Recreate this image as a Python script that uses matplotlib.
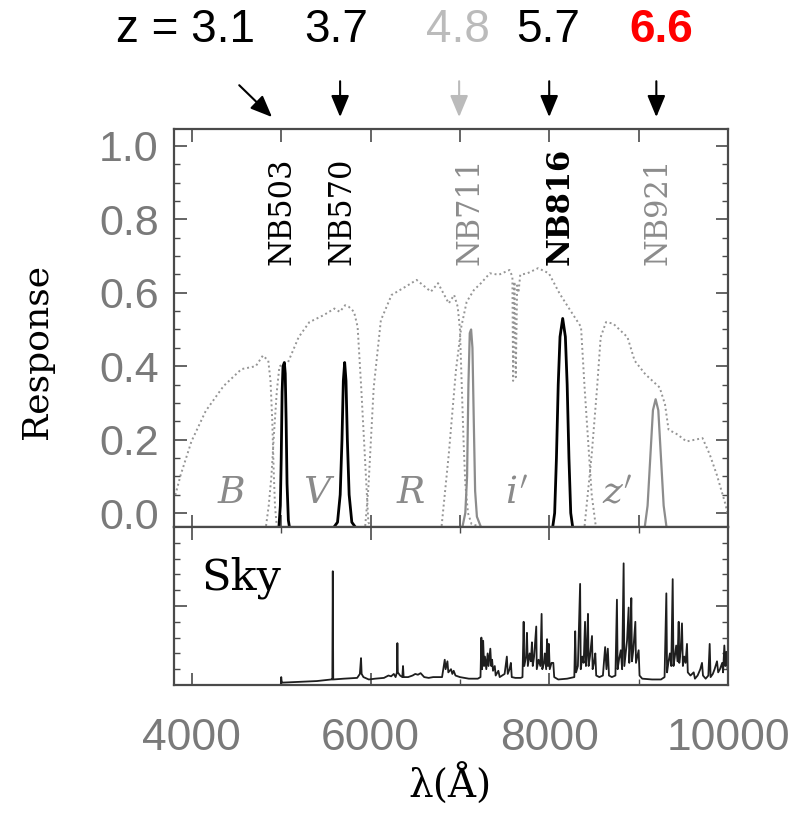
import matplotlib
matplotlib.use("Agg")
import matplotlib.pyplot as plt
from matplotlib.ticker import MultipleLocator

# --- narrow-band filter curves (wavelength in A, response) ---
nb503_wave = [4975, 4990, 5000, 5010, 5020, 5035, 5045, 5055, 5065, 5080, 5090]
nb503_resp = [-0.035, 0.02, 0.15, 0.33, 0.40, 0.41, 0.38, 0.25, 0.08, -0.02, -0.035]

nb570_wave = [5600, 5630, 5660, 5680, 5695, 5710, 5725, 5740, 5760, 5790, 5820]
nb570_resp = [-0.035, -0.025, 0.05, 0.20, 0.36, 0.41, 0.36, 0.20, 0.05, -0.025, -0.035]

nb711_wave = [7030, 7060, 7080, 7095, 7110, 7125, 7140, 7155, 7170, 7190, 7230]
nb711_resp = [-0.035, 0.0, 0.10, 0.35, 0.49, 0.50, 0.45, 0.25, 0.06, -0.01, -0.035]

nb816_wave = [8040, 8060, 8080, 8100, 8120, 8150, 8180, 8200, 8220, 8240, 8260]
nb816_resp = [-0.035, 0.0, 0.15, 0.35, 0.48, 0.53, 0.48, 0.35, 0.15, 0.0, -0.035]

nb921_wave = [9070, 9100, 9130, 9160, 9190, 9220, 9250, 9280, 9310]
nb921_resp = [-0.035, 0.02, 0.15, 0.28, 0.31, 0.28, 0.15, 0.02, -0.035]

# --- broad-band filter curves ---
b_wave = [3815, 3875, 3995, 4155, 4355, 4555, 4655, 4715, 4795, 4855, 4880, 4900, 4915, 4930, 4950]
b_resp = [0.049, 0.104, 0.195, 0.278, 0.346, 0.392, 0.397, 0.40, 0.429, 0.415, 0.36, 0.25, 0.12, 0.02, -0.035]

v_wave = [4830, 4860, 4890, 4920, 4950, 4980, 5075, 5195, 5315, 5475, 5595, 5655, 5715, 5755,
          5815, 5855, 5895, 5935, 5975, 6000]
v_resp = [-0.035, 0.02, 0.10, 0.22, 0.33, 0.40, 0.41, 0.479, 0.52, 0.539, 0.557, 0.548, 0.566,
          0.562, 0.548, 0.507, 0.342, 0.16, -0.025, -0.035]

r_wave = [5940, 5975, 6035, 6115, 6235, 6395, 6515, 6675, 6755, 6875, 6935, 6975, 7000, 7020,
          7040, 7060, 7090, 7130, 7200]
r_resp = [-0.035, 0.067, 0.342, 0.525, 0.594, 0.617, 0.635, 0.603, 0.626, 0.571, 0.594, 0.562,
          0.50, 0.35, 0.20, 0.08, 0.0, -0.03, -0.035]

i_wave = [6795, 6875, 6955, 7015, 7075, 7155, 7235, 7335, 7435, 7555, 7587, 7595, 7610,
          7625, 7640, 7655, 7675, 7755, 7875, 7995, 8115, 8235, 8355, 8395, 8435,
          8475, 8520]
i_resp = [-0.035, 0.16, 0.388, 0.507, 0.575, 0.607, 0.626, 0.653, 0.649, 0.662, 0.644, 0.36,
          0.63, 0.37, 0.62, 0.60, 0.649, 0.653, 0.667, 0.653, 0.598, 0.552,
          0.507, 0.342, 0.195, 0.049, -0.035]

z_wave = [8395, 8475, 8535, 8575, 8635, 8715, 8875, 8955, 9075, 9235, 9295, 9335, 9435, 9535,
          9715, 9795, 9875, 9975, 10000]
z_resp = [-0.035, 0.16, 0.342, 0.479, 0.52, 0.516, 0.479, 0.415, 0.378, 0.342, 0.296, 0.227,
          0.214, 0.195, 0.204, 0.16, 0.104, 0.021, -0.01]

broad_names = ["$B$", "$V$", "$R$", "$i'$", "$z'$"]
broad_label_wave = [4445, 5425, 6445, 7635, 8765]

nb_names = ["NB503", "NB570", "NB711", "NB816", "NB921"]
nb_label_wave = [5010, 5680, 7110, 8120, 9215]
nb_colors = ["black", "black", "#8c8c8c", "black", "#8c8c8c"]

# --- redshift labels and arrows ---
z_text = ["z = 3.1", "3.7", "4.8", "5.7", "6.6"]
z_text_x = [186, 336, 458, 548, 661]          # pixel centres of the labels
z_arrow_wave = [4897, 5659, 6991, 7999, 9198]
z_arrow_start_wave = [4530, 5659, 6991, 7999, 9198]
z_colors = ["black", "black", "#bbbbbb", "black", "red"]

# --- sky spectrum (hand traced, arbitrary units) ---
sky_wave = [4995, 5000, 5005, 5010, 5200, 5400, 5560, 5572, 5577, 5582, 5700, 5850, 5880, 5893,
            5900, 5920, 5980, 6050, 6150, 6200, 6230, 6260, 6280, 6295, 6300, 6305, 6330, 6355,
            6363, 6370, 6420, 6470, 6500, 6530, 6560, 6600, 6650, 6700, 6800, 6830, 6840, 6860,
            6870, 6900, 6915, 6930, 6950, 7000, 7100, 7200, 7230, 7240, 7248, 7260, 7270, 7280,
            7295, 7310, 7320, 7340, 7350, 7360, 7370, 7390, 7400, 7430, 7445, 7500, 7525, 7535,
            7555, 7570, 7580, 7620, 7680, 7700, 7713, 7720, 7740, 7750, 7760, 7780, 7794, 7806,
            7815, 7830, 7854, 7860, 7880, 7900, 7914, 7922, 7940, 7950, 7965, 7975, 7985, 7995,
            8005, 8025, 8045, 8055, 8100, 8200, 8280, 8290, 8300, 8320, 8345, 8352, 8370, 8385,
            8400, 8410, 8420, 8433, 8440, 8455, 8467, 8478, 8485, 8500, 8515, 8525, 8560, 8600,
            8625, 8640, 8655, 8668, 8700, 8740, 8757, 8765, 8780, 8800, 8815, 8832, 8840, 8855,
            8870, 8888, 8895, 8905, 8918, 8925, 8940, 8950, 8963, 8970, 8985, 9000, 9010, 9040,
            9150, 9250, 9290, 9310, 9318, 9335, 9350, 9365, 9381, 9390, 9405, 9420, 9435, 9448,
            9455, 9470, 9485, 9495, 9510, 9525, 9541, 9550, 9580, 9616, 9630, 9660, 9690, 9709,
            9720, 9750, 9780, 9795, 9805, 9830, 9850, 9877, 9890, 9910, 9935, 9945, 9959, 9970,
            9982, 9995]
sky_flux = [0.0, 0.05, 0.015, 0.015, 0.02, 0.025, 0.035, 0.035, 0.72, 0.035, 0.04, 0.045, 0.07, 0.17,
            0.07, 0.05, 0.035, 0.04, 0.045, 0.06, 0.055, 0.07, 0.05, 0.08, 0.265, 0.08, 0.06, 0.05,
            0.12, 0.05, 0.05, 0.06, 0.07, 0.065, 0.075, 0.05, 0.045, 0.05, 0.05, 0.16, 0.10, 0.15,
            0.08, 0.10, 0.07, 0.09, 0.06, 0.05, 0.04, 0.04, 0.05, 0.30, 0.10, 0.28, 0.12, 0.18,
            0.10, 0.20, 0.12, 0.23, 0.12, 0.16, 0.09, 0.12, 0.06, 0.09, 0.05, 0.07, 0.18, 0.07,
            0.10, 0.14, 0.05, 0.045, 0.045, 0.05, 0.40, 0.12, 0.18, 0.33, 0.12, 0.20, 0.15, 0.27,
            0.12, 0.18, 0.37, 0.10, 0.16, 0.12, 0.45, 0.10, 0.14, 0.20, 0.10, 0.29, 0.12, 0.26,
            0.10, 0.14, 0.14, 0.05, 0.035, 0.04, 0.05, 0.34, 0.08, 0.12, 0.64, 0.10, 0.18, 0.14,
            0.40, 0.12, 0.20, 0.45, 0.12, 0.18, 0.25, 0.31, 0.10, 0.14, 0.20, 0.06, 0.05, 0.06,
            0.24, 0.10, 0.23, 0.06, 0.05, 0.06, 0.54, 0.10, 0.16, 0.22, 0.10, 0.77, 0.12, 0.20,
            0.28, 0.49, 0.14, 0.25, 0.55, 0.15, 0.22, 0.30, 0.40, 0.14, 0.18, 0.22, 0.06, 0.04,
            0.035, 0.035, 0.05, 0.58, 0.08, 0.15, 0.20, 0.12, 0.67, 0.12, 0.18, 0.25, 0.15, 0.40,
            0.14, 0.22, 0.39, 0.12, 0.18, 0.14, 0.26, 0.08, 0.06, 0.08, 0.04, 0.06, 0.10, 0.14,
            0.06, 0.04, 0.06, 0.26, 0.05, 0.07, 0.10, 0.15, 0.08, 0.10, 0.14, 0.08, 0.25, 0.12,
            0.21, 0.10]

W, H = 802, 814
fig = plt.figure(figsize=(W / 100, H / 100), dpi=100)
fig.patch.set_facecolor("white")

left, right = 174, 728
ax1 = fig.add_axes([left / W, 1 - 527 / H, (right - left) / W, (527 - 129) / H])
ax2 = fig.add_axes([left / W, 1 - 685 / H, (right - left) / W, (685 - 527) / H])

frame_col = "#4a4a4a"
tick_gray = "#7a7a7a"
sans = ["Liberation Sans", "DejaVu Sans"]
serif = ["DejaVu Serif"]

for ax in (ax1, ax2):
    ax.set_xlim(3800, 10000)
    for s in ax.spines.values():
        s.set_color(frame_col)
        s.set_linewidth(1.6)
    ax.xaxis.set_major_locator(MultipleLocator(1000))
    ax.tick_params(which="both", direction="in", top=True, right=True, color=frame_col)
    ax.tick_params(which="major", length=9, width=1.2)
    ax.tick_params(which="minor", length=4, width=1.0)

# top panel
dot = dict(color="#959595", lw=1.4, linestyle=(0, (1, 1.5)))
for wv, rs in [(b_wave, b_resp), (v_wave, v_resp), (r_wave, r_resp), (i_wave, i_resp), (z_wave, z_resp)]:
    ax1.plot(wv, rs, **dot)

nb_sets = [(nb503_wave, nb503_resp), (nb570_wave, nb570_resp), (nb711_wave, nb711_resp),
           (nb816_wave, nb816_resp), (nb921_wave, nb921_resp)]
for (wv, rs), c in zip(nb_sets, nb_colors):
    ax1.plot(wv, rs, color=c, lw=2.0 if c == "black" else 1.6)

ax1.set_ylim(-0.038, 1.046)
ax1.yaxis.set_major_locator(MultipleLocator(0.2))
ax1.yaxis.set_minor_locator(MultipleLocator(0.05))
ax1.set_xticklabels([])
ax1.tick_params(axis="y", which="major", labelsize=31, labelcolor=tick_gray, pad=11)
ax1.yaxis.set_major_formatter(plt.FuncFormatter(lambda v, p: f"{v:.1f}"))
for lab in ax1.get_yticklabels():
    lab.set_family(sans)

fig.text(37 / W, 1 - 351 / H, "Response", family=serif, fontsize=26, rotation=90,
         ha="center", va="center")

for name, wv in zip(broad_names, broad_label_wave):
    ax1.text(wv, 0.055, name, ha="center", va="center", fontsize=27, color="#8a8a8a",
             math_fontfamily="dejavuserif")

for name, wv, c in zip(nb_names, nb_label_wave, nb_colors):
    ax1.text(wv, 0.675, name, rotation=90, ha="center", va="bottom", fontsize=22,
             family=serif, color=c, fontweight="bold" if name == "NB816" else "normal")

# bottom panel
ax2.plot(sky_wave, sky_flux, color="#1e1e1e", lw=1.3)
ax2.set_ylim(0, 1)
ax2.yaxis.set_major_locator(MultipleLocator(0.5))
ax2.yaxis.set_minor_locator(MultipleLocator(0.1))
ax2.set_yticklabels([])
ax2.xaxis.set_major_locator(MultipleLocator(2000))
ax2.xaxis.set_minor_locator(MultipleLocator(1000))
ax2.tick_params(axis="x", which="major", labelsize=32, labelcolor=tick_gray, pad=24)
ax2.xaxis.set_major_formatter(plt.FuncFormatter(lambda v, p: f"{int(v)}"))
for lab in ax2.get_xticklabels():
    lab.set_family(sans)
ax2.text(0.05, 0.68, "Sky", transform=ax2.transAxes, family=serif, fontsize=31,
         ha="left", va="center")

fig.text(450 / W, 1 - 785 / H, "λ(Å)", family=serif, fontsize=28, ha="center", va="center")

# redshift labels
for t, x, c in zip(z_text, z_text_x, z_colors):
    fig.text(x / W, 1 - 30 / H, t, family=sans, fontsize=33, color=c, ha="center",
             va="center", fontweight="bold" if c == "red" else "normal")

for wv0, wv1, c in zip(z_arrow_start_wave, z_arrow_wave, z_colors):
    arrow_col = "black" if c == "red" else c
    ax1.annotate("", xy=(wv1, 1.03), xycoords=("data", "axes fraction"),
                 xytext=(wv0, 1.11 if wv0 != wv1 else 1.12),
                 textcoords=("data", "axes fraction"),
                 arrowprops=dict(arrowstyle="-|>,head_length=0.6,head_width=0.25",
                                 color=arrow_col, lw=1.5,
                                 mutation_scale=22, shrinkA=0, shrinkB=0),
                 annotation_clip=False)

fig.savefig("out.png", dpi=100)
